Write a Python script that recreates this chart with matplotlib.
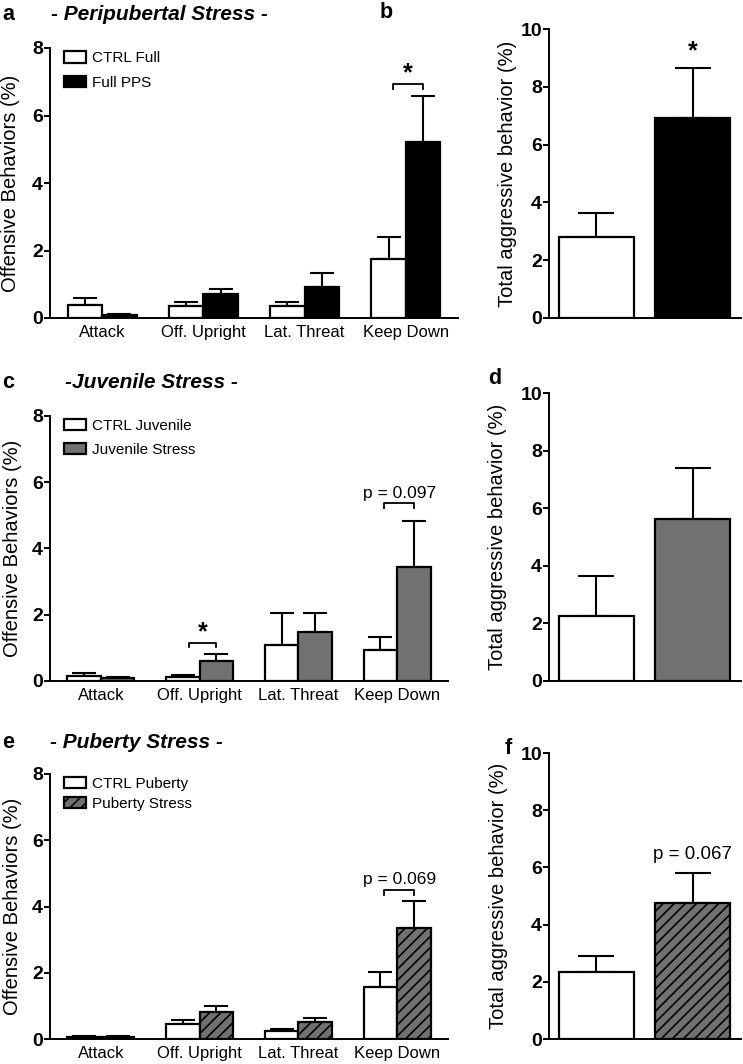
import matplotlib
matplotlib.use("Agg")
import matplotlib.pyplot as plt
import numpy as np

plt.rcParams['font.family'] = ['Liberation Sans', 'DejaVu Sans']
plt.rcParams['hatch.linewidth'] = 1.2

# ---------------- data ----------------
categories = ['Attack', 'Off. Upright', 'Lat. Threat', 'Keep Down']

a_ctrl = [0.40, 0.37, 0.35, 1.76]
a_ctrl_err = [0.19, 0.10, 0.12, 0.63]
a_stress = [0.08, 0.70, 0.92, 5.21]
a_stress_err = [0.03, 0.17, 0.42, 1.37]

b_vals = [2.80, 6.93]
b_err = [0.84, 1.73]

c_ctrl = [0.15, 0.11, 1.08, 0.93]
c_ctrl_err = [0.07, 0.05, 0.96, 0.38]
c_stress = [0.09, 0.59, 1.47, 3.45]
c_stress_err = [0.02, 0.21, 0.59, 1.38]

d_vals = [2.25, 5.61]
d_err = [1.40, 1.78]

e_ctrl = [0.07, 0.44, 0.25, 1.57]
e_ctrl_err = [0.03, 0.13, 0.06, 0.45]
e_stress = [0.07, 0.82, 0.51, 3.35]
e_stress_err = [0.02, 0.18, 0.13, 0.82]

f_vals = [2.34, 4.75]
f_err = [0.56, 1.07]

legend_a = ['CTRL Full', 'Full PPS']
legend_c = ['CTRL Juvenile', 'Juvenile Stress']
legend_e = ['CTRL Puberty', 'Puberty Stress']

GRAY = '#717171'
W, H = 743, 1064
fig = plt.figure(figsize=(W / 100, H / 100), dpi=100)


def ax_px(left, right, bottom, top):
    return fig.add_axes([left / W, 1 - bottom / H, (right - left) / W, (bottom - top) / H])


def style(ax, ymax, ystep, ylabel, label_x):
    for s in ['top', 'right']:
        ax.spines[s].set_visible(False)
    for s in ['left', 'bottom']:
        ax.spines[s].set_linewidth(1.4)
    ax.set_ylim(0, ymax)
    ax.set_yticks(np.arange(0, ymax + 0.01, ystep))
    ax.tick_params(axis='y', direction='out', length=4.5, width=1.4, labelsize=14, pad=0.5)
    for lab in ax.get_yticklabels():
        lab.set_fontweight('bold')
    ax.set_ylabel(ylabel, fontsize=14.5)
    ax.yaxis.set_label_coords(label_x, 0.5)


def group_panel(ax, ctrl, ctrl_err, stress, stress_err, xmax, labels, stress_kw,
                leg_spacing, leg_top, label_x):
    x = np.arange(len(categories))
    w = 0.34
    b1 = ax.bar(x - w / 2, ctrl, w, color='white', edgecolor='black', linewidth=1.6,
                label=labels[0], zorder=3)
    b2 = ax.bar(x + w / 2, stress, w, edgecolor='black', linewidth=1.6,
                label=labels[1], zorder=3, **stress_kw)
    ax.errorbar(x - w / 2, ctrl, yerr=[np.zeros(len(ctrl)), ctrl_err], fmt='none',
                ecolor='black', elinewidth=1.5, capsize=8.5, capthick=1.5, zorder=2)
    ax.errorbar(x + w / 2, stress, yerr=[np.zeros(len(stress)), stress_err], fmt='none',
                ecolor='black', elinewidth=1.5, capsize=8.5, capthick=1.5, zorder=2)
    ax.set_xlim(-0.515, xmax)
    ax.set_xticks(x)
    ax.set_xticklabels(categories, fontsize=12)
    ax.tick_params(axis='x', length=0, pad=5)
    style(ax, 8, 2, 'Offensive Behaviors (%)', label_x)
    ax.legend(handles=[b1, b2], loc='upper left', bbox_to_anchor=(0.02, leg_top),
              frameon=False, fontsize=11, handlelength=1.45, handleheight=0.75,
              handletextpad=0.35, labelspacing=leg_spacing, borderaxespad=0)
    return x, w


def bracket(ax, x0, x1, y, text, dy=0.13, tdy=0.12, fs=12, bold=False):
    ax.plot([x0, x0, x1, x1], [y - dy, y, y, y - dy], color='black', lw=1.3, zorder=4)
    ax.text((x0 + x1) / 2, y + tdy, text, ha='center', va='bottom', fontsize=fs,
            fontweight='bold' if bold else 'normal')


def total_panel(ax, vals, err, stress_kw, label_x):
    x = np.arange(2)
    w = 0.78
    ax.bar(x[0], vals[0], w, color='white', edgecolor='black', linewidth=1.6, zorder=3)
    ax.bar(x[1], vals[1], w, edgecolor='black', linewidth=1.6, zorder=3, **stress_kw)
    ax.errorbar(x, vals, yerr=[np.zeros(2), err], fmt='none', ecolor='black',
                elinewidth=1.5, capsize=13, capthick=1.5, zorder=2)
    ax.set_xlim(-0.49, 1.5)
    ax.set_xticks([])
    style(ax, 10, 2, 'Total aggressive behavior (%)', label_x)
    return x


# ---- panel a ----
ax_a = ax_px(50, 458, 318, 48)
xa, wa = group_panel(ax_a, a_ctrl, a_ctrl_err, a_stress, a_stress_err, 3.515, legend_a,
                     dict(color='black'), 0.7, 1.01, -0.0735)
bracket(ax_a, xa[3] - wa / 2 + 0.04, xa[3] + wa / 2, 6.94, '*', dy=0.15, tdy=-0.05, fs=18, bold=True)

# ---- panel b ----
ax_b = ax_px(549, 741, 318, 29)
xb = total_panel(ax_b, b_vals, b_err, dict(color='black'), -0.167)
ax_b.text(xb[1], b_vals[1] + b_err[1] + 0.15, '*', ha='center', va='bottom', fontsize=18,
          fontweight='bold')

# ---- panel c ----
ax_c = ax_px(50, 448, 680.7, 416)
xc, wc = group_panel(ax_c, c_ctrl, c_ctrl_err, c_stress, c_stress_err, 3.515, legend_c,
                     dict(color=GRAY), 0.63, 1.011, -0.070)
bracket(ax_c, xc[1] - wc / 2 + 0.06, xc[1] + wc / 2, 1.14, '*', dy=0.12, tdy=-0.05, fs=18, bold=True)
bracket(ax_c, xc[3] - wc / 2 + 0.04, xc[3] + wc / 2, 5.36, 'p = 0.097', dy=0.14, tdy=0.08, fs=12.5)

# ---- panel d ----
ax_d = ax_px(549, 741, 680.7, 393.3)
total_panel(ax_d, d_vals, d_err, dict(color=GRAY), -0.219)

# ---- panel e ----
ax_e = ax_px(50, 448, 1039, 774)
xe, we = group_panel(ax_e, e_ctrl, e_ctrl_err, e_stress, e_stress_err, 3.515, legend_e,
                     dict(color=GRAY, hatch='///'), 0.37, 1.011, -0.070)
bracket(ax_e, xe[3] - we / 2 + 0.04, xe[3] + we / 2, 4.5, 'p = 0.069', dy=0.14, tdy=0.08, fs=12.5)

# ---- panel f ----
ax_f = ax_px(549, 741, 1039, 753)
xf = total_panel(ax_f, f_vals, f_err, dict(color=GRAY, hatch='///'), -0.214)
ax_f.text(xf[1], 6.15, 'p = 0.067', ha='center', va='bottom', fontsize=13.5)

# ---- panel letters and titles ----
def ftext(x, y, s, **kw):
    fig.text(x / W, 1 - y / H, s, va='center', **kw)

ftext(2, 14, 'a', fontsize=15.5, fontweight='bold')
ftext(51, 15, '- Peripubertal Stress -', fontsize=15, fontweight='bold', style='italic')
ftext(380, 12, 'b', fontsize=15.5, fontweight='bold')
ftext(2, 383, 'c', fontsize=15.5, fontweight='bold')
ftext(65, 383, '-Juvenile Stress -', fontsize=15, fontweight='bold', style='italic')
ftext(488, 379, 'd', fontsize=15.5, fontweight='bold')
ftext(2, 742, 'e', fontsize=15.5, fontweight='bold')
ftext(50, 742, '- Puberty Stress -', fontsize=15, fontweight='bold', style='italic')
ftext(505, 748, 'f', fontsize=15.5, fontweight='bold')

fig.savefig('out.png', dpi=100)
